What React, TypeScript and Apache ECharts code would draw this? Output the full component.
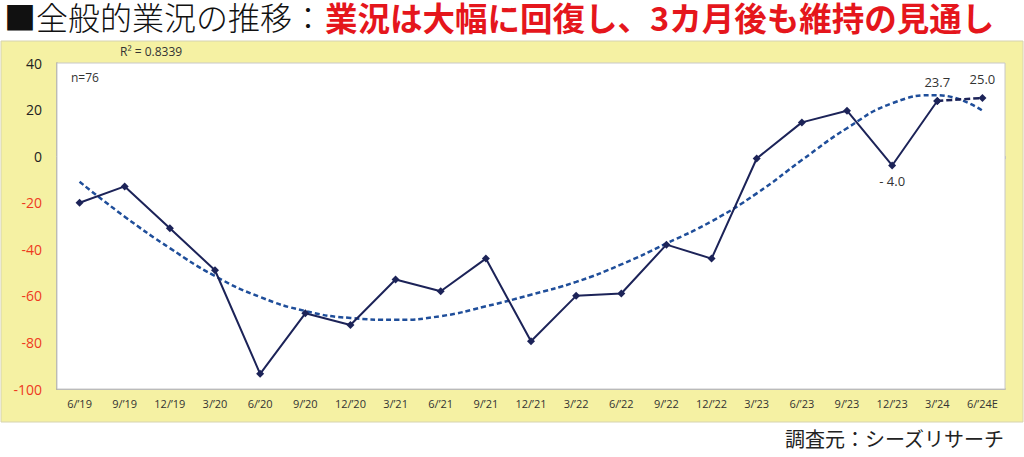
import React, { useEffect, useRef } from "react";
import * as echarts from "echarts";

const categories = [
  "6/’19", "9/’19", "12/’19", "3/’20", "6/’20", "9/’20", "12/’20",
  "3/’21", "6/’21", "9/’21", "12/’21", "3/’22", "6/’22", "9/’22",
  "12/’22", "3/’23", "6/’23", "9/’23", "12/’23", "3/’24", "6/’24E",
];

const actual: (number | null)[] = [
  -20, -13, -31, -49, -93.5, -67.5, -72.5, -53, -58, -44, -79.5, -60, -59,
  -38, -44, -1, 14.5, 19.5, -4.0, 23.7, null,
];

const forecast: (number | null)[] = [
  null, null, null, null, null, null, null, null, null, null, null, null,
  null, null, null, null, null, null, null, 23.7, 25.0,
];

const trend = [
  -11, -26, -39.5, -51.5, -60.5, -66.5, -69.5, -70.3, -68.7, -64.5, -59.5,
  -54, -46.5, -37.5, -28, -16, -1.7, 12, 22.7, 26.2, 19.5,
];

const yTicks = { min: -100, max: 40, interval: 20 };

const titleBlack = "■全般的業況の推移：";
const titleRed = "業況は大幅に回復し、3カ月後も維持の見通し";
const sourceText = "調査元：シーズリサーチ";
const r2Text = "R² = 0.8339";
const nText = "n=76";

const labeledIdx: Record<number, string> = { 18: "- 4.0", 19: "23.7" };

export default function App() {
  const ref = useRef<HTMLDivElement>(null);
  useEffect(() => {
    if (!ref.current) return;
    const chart = echarts.init(ref.current, undefined, { renderer: "svg" });
    const latin = "'Open Sans', 'Noto Sans CJK JP', sans-serif";
    const cjk = "'Noto Sans CJK JP', sans-serif";
    chart.setOption({
      animation: false,
      backgroundColor: "#ffffff",
      textStyle: { fontFamily: latin },
      grid: {
        left: 57,
        top: 63,
        right: 19,
        bottom: 68,
        show: true,
        backgroundColor: "#ffffff",
        borderColor: "#c8c8c8",
        borderWidth: 1,
        z: 1,
      },
      graphic: [
        {
          type: "rect",
          z: -10,
          shape: { x: 1, y: 41, width: 1022, height: 381 },
          style: { fill: "#f5f1a3", stroke: "#d6d3b0", lineWidth: 1 },
        },
        {
          type: "text",
          x: 4,
          y: 0,
          style: {
            text: titleBlack,
            font: `300 32px ${cjk}`,
            lineHeight: 32,
            fill: "#111111",
            textVerticalAlign: "top",
          },
        },
        {
          type: "text",
          x: 325,
          y: 0,
          style: {
            text: titleRed,
            font: `bold 32.5px ${cjk}`,
            lineHeight: 32,
            fill: "#e5161c",
            textVerticalAlign: "top",
          },
        },
        {
          type: "text",
          x: 120,
          y: 51,
          style: {
            text: r2Text,
            font: `12px ${latin}`,
            fill: "#333333",
            textVerticalAlign: "middle",
          },
        },
        {
          type: "text",
          x: 71,
          y: 77,
          z: 10,
          style: {
            text: nText,
            font: `12px ${latin}`,
            fill: "#333333",
            textVerticalAlign: "middle",
          },
        },
        {
          type: "text",
          x: 1004,
          y: 438,
          style: {
            text: sourceText,
            font: `20px ${cjk}`,
            fill: "#222222",
            textAlign: "right",
            textVerticalAlign: "middle",
          },
        },
      ],
      xAxis: [
        {
          type: "category",
          data: categories,
          boundaryGap: true,
          position: "bottom",
          axisLine: { onZero: false, lineStyle: { color: "#9a9a9a", width: 1.5 } },
          axisTick: { show: false },
          axisLabel: {
            margin: 9,
            interval: 0,
            formatter: (v: string) => `{c|${v}}`,
            rich: { c: { color: "#333333", fontSize: 11 } },
          },
          splitLine: { show: false },
        },
        {
          type: "category",
          data: categories,
          boundaryGap: true,
          position: "bottom",
          axisLine: { onZero: true, lineStyle: { color: "#d0d0d0", width: 1 } },
          axisTick: { show: true, length: 3, lineStyle: { color: "#c0c0c0" } },
          axisLabel: { show: false },
          splitLine: { show: false },
        },
      ],
      yAxis: {
        type: "value",
        min: yTicks.min,
        max: yTicks.max,
        interval: yTicks.interval,
        axisLine: { show: true, lineStyle: { color: "#9a9a9a", width: 1.5 } },
        axisTick: { show: false },
        axisLabel: {
          margin: 15,
          formatter: (v: number) => (v < 0 ? `{neg|${v}}` : `{pos|${v}}`),
          rich: {
            neg: { color: "#ee3a1e", fontSize: 14 },
            pos: { color: "#222222", fontSize: 14 },
          },
        },
        splitLine: { lineStyle: { color: "#e8e8e8", width: 1 } },
      },
      series: [
        {
          name: "trend",
          type: "line",
          data: trend,
          smooth: true,
          symbol: "none",
          z: 3,
          lineStyle: { color: "#1f4e9a", width: 2.5, type: [5, 3] },
        },
        {
          name: "actual",
          type: "line",
          data: actual,
          symbol: "diamond",
          symbolSize: 8,
          z: 4,
          itemStyle: { color: "#1c2358" },
          lineStyle: { color: "#1c2358", width: 2 },
          label: {
            show: true,
            fontSize: 13,
            color: "#333333",
            formatter: (p: any) => labeledIdx[p.dataIndex] ?? "",
            position: "top",
            distance: 8,
          },
          labelLayout: (p: any) => {
            if (p.dataIndex === 18) {
              return { dy: 34 };
            }
            return {};
          },
        },
        {
          name: "forecast",
          type: "line",
          data: forecast,
          symbol: "diamond",
          symbolSize: 8,
          z: 4,
          itemStyle: { color: "#1c2358" },
          lineStyle: { color: "#1c2358", width: 2.5, type: [6, 3] },
          label: {
            show: true,
            fontSize: 13,
            color: "#333333",
            position: "top",
            distance: 8,
            formatter: (p: any) => (p.dataIndex === 20 ? Number(p.value).toFixed(1) : ""),
          },
        },
      ],
    });
    return () => chart.dispose();
  }, []);
  return (
    <div
      ref={ref}
      style={{ position: "fixed", left: 0, top: 0, width: 1024, height: 457 }}
    />
  );
}
